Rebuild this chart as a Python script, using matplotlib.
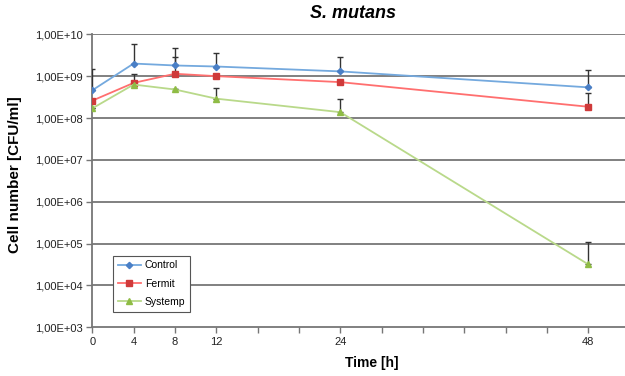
import matplotlib
matplotlib.use("Agg")
import matplotlib.pyplot as plt
import numpy as np

###############################
###          DATA           ###
###############################
hours = [0, 4, 8, 12, 24, 48]

control      = [4.6e8, 2.0e9, 1.8e9, 1.7e9, 1.3e9, 5.4e8]
control_top  = [1.5e9, 5.9e9, 4.7e9, 3.5e9, 2.9e9, 1.4e9]
fermit       = [2.6e8, 6.9e8, 1.14e9, 1.0e9, 7.2e8, 1.86e8]
fermit_top   = [2.6e8, 1.1e9, 2.9e9, 1.0e9, 7.2e8, 3.9e8]
systemp      = [1.7e8, 6.3e8, 4.8e8, 2.9e8, 1.38e8, 3.2e4]
systemp_top  = [1.7e8, 6.3e8, 4.8e8, 5.1e8, 2.9e8, 1.07e5]

y_ticks  = [1e3, 1e4, 1e5, 1e6, 1e7, 1e8, 1e9, 1e10]
y_labels = ["1,00E+03", "1,00E+04", "1,00E+05", "1,00E+06",
            "1,00E+07", "1,00E+08", "1,00E+09", "1,00E+10"]
x_ticks  = list(range(0, 53, 4))
x_shown  = [0, 4, 8, 12, 24, 48]

plt.rcParams['font.family'] = ['Liberation Sans', 'DejaVu Sans']

###############################
###         FIGURE          ###
###############################
W, H = 625, 376
fig = plt.figure(figsize=(W / 100, H / 100), dpi=100)

x0, x1 = 92.3, 629.5
y_top, y_bot = 34.3, 327.3
ax = fig.add_axes([x0 / W, 1 - y_bot / H, (x1 - x0) / W, (y_bot - y_top) / H])

ax.set_yscale('log')
ax.set_xlim(0, 52)
ax.set_ylim(1e3, 1e10)

# gridlines
for yv in y_ticks[1:]:
    ax.axhline(yv, color='#767676', lw=1.3, zorder=1)

series = [
    (control, control_top, 'Control', '#74a9de', '#4a7fc6', 'D', 3.2),
    (fermit, fermit_top, 'Fermit', '#ff6f6f', '#cf3a3a', 's', 5.0),
    (systemp, systemp_top, 'Systemp', '#b9d98a', '#8fbc45', '^', 4.5),
]

for vals, tops, name, lc, mc, mk, ms in series:
    vals = np.array(vals)
    up = np.array(tops) - vals
    ax.errorbar(hours, vals, yerr=[np.zeros_like(up), up], fmt='none',
                ecolor='#333333', elinewidth=1.0, capsize=2.0, capthick=1.0, zorder=3)
    ax.plot(hours, vals, color=lc, lw=1.3, marker=mk, markersize=ms,
            markerfacecolor=mc, markeredgecolor=mc, label=name, zorder=4)

###############################
###          AXES           ###
###############################
ax.set_yticks(y_ticks)
ax.set_yticklabels(y_labels)
ax.minorticks_off()
ax.set_xticks(x_ticks)
ax.set_xticklabels([str(t) if t in x_shown else "" for t in x_ticks])
ax.tick_params(axis='both', direction='out', length=4, width=1,
               color='#767676', labelsize=8, labelcolor='#222222', pad=3)

for side in ['top', 'right']:
    ax.spines[side].set_visible(False)
for side in ['left', 'bottom']:
    ax.spines[side].set_color('#767676')
    ax.spines[side].set_linewidth(1.3)

leg = ax.legend(loc='upper left', bbox_to_anchor=(113 / W, 1 - 255.5 / H),
                bbox_transform=fig.transFigure, fontsize=7.5, frameon=True,
                fancybox=False, framealpha=1, edgecolor='#555555',
                handlelength=2.2, handletextpad=0.4, labelspacing=0.8,
                borderpad=0.45, borderaxespad=0)
leg.get_frame().set_linewidth(0.8)

###############################
###         LABELS          ###
###############################
fig.text(353 / W, 1 - 13 / H, 'S. mutans', fontsize=13, fontweight='bold',
         fontstyle='italic', ha='center', va='center')
fig.text(15 / W, 1 - 175 / H, 'Cell number [CFU/ml]', fontsize=11,
         fontweight='bold', rotation=90, ha='center', va='center')
fig.text(371.5 / W, 1 - 363 / H, 'Time [h]', fontsize=10, fontweight='bold',
         ha='center', va='center')

fig.savefig('out.png', dpi=100)
